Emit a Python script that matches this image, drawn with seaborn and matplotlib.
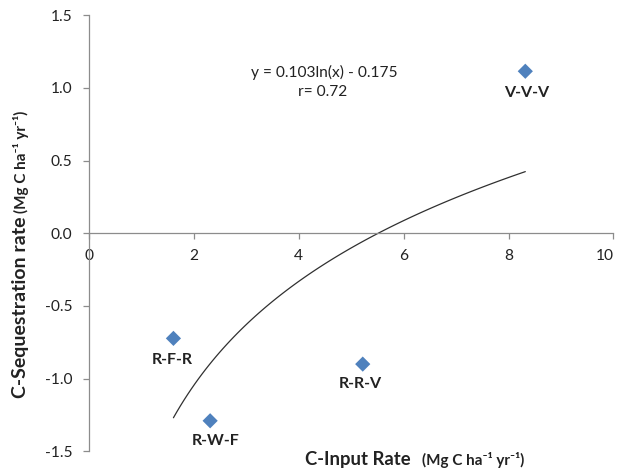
import numpy as np
import pandas as pd
import seaborn as sns
import matplotlib.pyplot as plt

# ---- data ----
systems = ["R-F-R", "R-W-F", "R-R-V", "V-V-V"]
c_input = [1.61, 2.31, 5.22, 8.32]          # Mg C ha-1 yr-1
c_seq = [-0.723, -1.29, -0.90, 1.115]        # Mg C ha-1 yr-1
x_ticks = [0, 2, 4, 6, 8, 10]
y_ticks = [-1.5, -1.0, -0.5, 0.0, 0.5, 1.0, 1.5]
equation_text = "y = 0.103ln(x) - 0.175"
r_text = "r= 0.72"

# ---- style ----
sns.set_theme(style="white")
plt.rcParams['font.family'] = ['Lato', 'DejaVu Sans']

df = pd.DataFrame({"system": systems, "c_input": c_input, "c_seq": c_seq})

W, H = 619, 470
fig = plt.figure(figsize=(W / 100, H / 100), dpi=100)
ax = fig.add_axes([89 / W, (H - 451.3) / H, (613.4 - 89) / W, (451.3 - 15.3) / H])

axis_gray = "#8c8c8c"
text_col = "#222222"

# logarithmic trend line fitted to the points
sns.regplot(data=df, x="c_input", y="c_seq", logx=True, ci=None, scatter=False,
            line_kws=dict(color="#303030", lw=0.9), ax=ax)
# points
sns.scatterplot(data=df, x="c_input", y="c_seq", marker="D", s=60,
                color="#4F81BD", edgecolor="none", ax=ax, zorder=5)

# point labels (offsets in points)
offsets = {"R-F-R": (-0.7, -15.3), "R-W-F": (3.6, -14.9), "R-R-V": (-1.6, -14.6), "V-V-V": (1.2, -15.4)}
for name, xv, yv in zip(systems, c_input, c_seq):
    ax.annotate(name, (xv, yv), xytext=offsets[name], textcoords="offset points",
                ha="center", va="center", fontsize=11.5, fontweight="bold", color=text_col)

# equation text
ax.text(4.49, 1.105, equation_text, ha="center", va="center", fontsize=11.2, color=text_col)
ax.text(4.46, 0.975, r_text, ha="center", va="center", fontsize=11.2, color=text_col)

# axes
ax.set_xlim(0, 10)
ax.set_ylim(-1.5, 1.5)
ax.set_xticks(x_ticks)
ax.set_xticklabels([str(v) for v in x_ticks])
ax.set_yticks(y_ticks)
ax.set_yticklabels([f"{v:.1f}" for v in y_ticks])
ax.spines['bottom'].set_position(('data', 0))
for s in ['top', 'right']:
    ax.spines[s].set_visible(False)
for s in ['left', 'bottom']:
    ax.spines[s].set_color(axis_gray)
    ax.spines[s].set_linewidth(0.9)
ax.tick_params(axis='both', direction='out', length=4, width=0.9, color=axis_gray,
               labelsize=11.2, labelcolor=text_col)
ax.tick_params(axis='x', pad=7, bottom=True)
ax.tick_params(axis='y', pad=8, left=True)
# keep the last x tick label ("10") inside the figure edge
ax.get_xticklabels()[-1].set_horizontalalignment('right')
ax.set_xlabel("")
ax.set_ylabel("")

# axis titles (two-part, as in the reference)
fig.text(305 / W, 1 - 459 / H, "C-Input Rate", ha="left", va="center",
         fontsize=13.3, fontweight="bold", color=text_col)
fig.text(422 / W, 1 - 460 / H, "(Mg C ha⁻¹ yr⁻¹)", ha="left", va="center",
         fontsize=11, fontweight="bold", color=text_col)
fig.text(21 / W, 1 - 307 / H, "C-Sequestration rate", ha="center", va="center",
         rotation=90, fontsize=14, fontweight="bold", color=text_col)
fig.text(21 / W, 1 - 162 / H, "(Mg C ha⁻¹ yr⁻¹)", ha="center", va="center",
         rotation=90, fontsize=11, fontweight="bold", color=text_col)

fig.savefig("out.png", dpi=100)
